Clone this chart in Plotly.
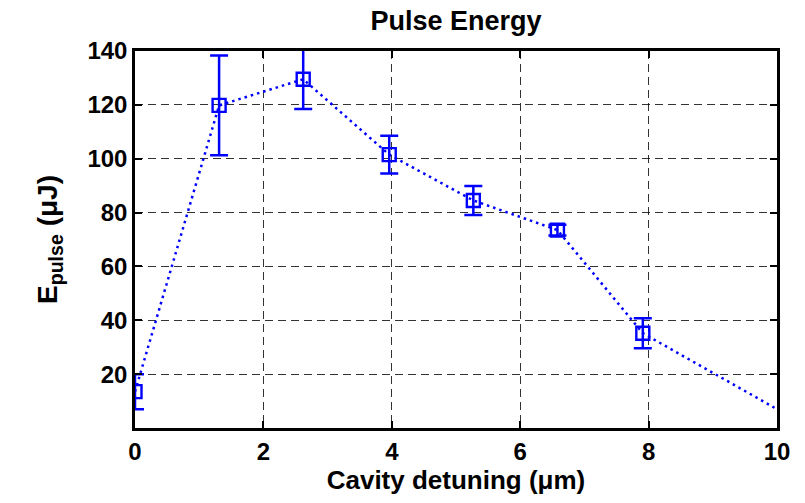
import plotly.graph_objects as go

# Data
detuning = [0.0, 1.31, 2.62, 3.96, 5.27, 6.58, 7.91]
energy = [13.5, 119.8, 129.5, 101.5, 84.5, 73.5, 35.2]
energy_err = [6.5, 18.5, 11.0, 7.0, 5.4, 2.0, 5.6]
# trailing line segment (no marker) running to the right edge
line_x = detuning + [10.0]
line_y = energy + [7.0]

x_ticks = [0, 2, 4, 6, 8, 10]
y_ticks = [20, 40, 60, 80, 100, 120, 140]

blue = "rgb(0,0,255)"
font_family = "Liberation Sans, Arial, sans-serif"

fig = go.Figure()
fig.add_trace(go.Scatter(
    x=line_x, y=line_y, mode="lines",
    line=dict(color=blue, width=2.5, dash="2.5px,4px"),
    hoverinfo="skip", showlegend=False,
))
fig.add_trace(go.Scatter(
    x=detuning, y=energy, mode="markers",
    marker=dict(symbol="square-open", size=13, color=blue, line=dict(width=2.4, color=blue)),
    error_y=dict(type="data", array=energy_err, visible=True, color=blue, thickness=2.5, width=9),
    showlegend=False,
))

axis_common = dict(
    showline=True, linecolor="black", linewidth=2.5, mirror="ticks",
    ticks="inside", ticklen=7, tickwidth=2, tickcolor="black",
    showgrid=True, gridcolor="rgba(0,0,0,0.8)", gridwidth=1, griddash="8px,5px",
    zeroline=False,
    tickfont=dict(family=font_family, size=24, color="black", weight="bold"),
)

fig.update_layout(
    width=805, height=503,
    margin=dict(l=135, r=28, t=51, b=75),
    paper_bgcolor="white", plot_bgcolor="white",
    title=dict(text="Pulse Energy", x=(135 + 777) / 2 / 805, xanchor="center",
               y=1 - 21 / 503, yanchor="middle",
               font=dict(family=font_family, size=27, color="black", weight="bold")),
    xaxis=dict(range=[0, 10], tickvals=x_ticks,
               title=dict(text="Cavity detuning (μm)", standoff=1,
                          font=dict(family=font_family, size=26, color="black", weight="bold")),
               **axis_common),
    yaxis=dict(range=[0, 140], tickvals=y_ticks,
               title=dict(text="E<sub>pulse</sub> (μJ)", standoff=22,
                          font=dict(family=font_family, size=28, color="black", weight="bold")),
               **axis_common),
)

fig.write_html("out.html")
